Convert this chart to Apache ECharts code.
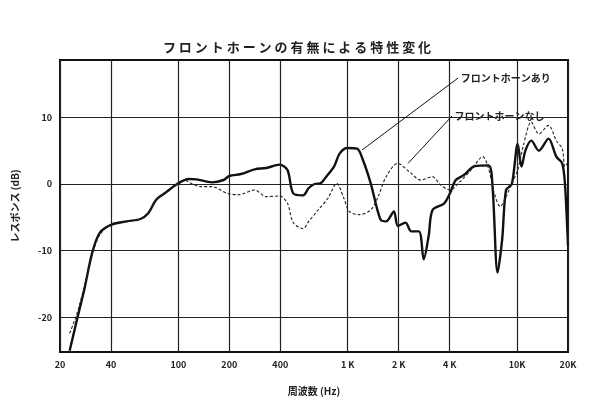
<!DOCTYPE html>
<html>
<head>
<meta charset="utf-8">
<script src="https://cdn.jsdelivr.net/npm/echarts@6/dist/echarts.min.js"></script>
<style>html,body{margin:0;padding:0;background:#fff}#chart{width:605px;height:408px}</style>
</head>
<body>
<div id="chart"></div>
<script>
// response with front horn (solid)
var withFreq = [22.8, 25, 27.9, 31, 34.4, 40.3, 49.7, 59.7, 66.4, 73.8, 84.1, 98.4, 115, 128, 158, 185, 200, 234, 282, 330, 397, 441, 477, 545, 589, 637, 690, 747, 830, 898, 996, 1137, 1230, 1368, 1560, 1687, 1875, 1977, 2195, 2374, 2637, 2812, 3007, 3170, 3716, 4018, 4346, 4830, 5652, 6795, 7166, 7675, 8170, 8612, 9318, 10090, 10630, 11200, 12130, 13460, 15350, 17060, 18480, 19180, 20000];
var withDb = [-25, -20.7, -15.7, -10.3, -7.3, -6.1, -5.6, -5.25, -4.4, -2.4, -1.3, 0, 0.75, 0.7, 0.25, 0.6, 1.2, 1.5, 2.2, 2.4, 2.9, 2.1, -1.4, -1.7, -0.6, 0, 0.1, 1.1, 2.6, 4.6, 5.4, 5.3, 3.6, 0.1, -5.3, -5.6, -4.1, -6.3, -5.8, -7.1, -7.1, -11.3, -7.8, -3.9, -2.9, -1.4, 0.6, 1.3, 2.7, 2.8, -0.4, -13.3, -8.3, -0.9, 0, 6.0, 2.6, 5.0, 6.5, 5.0, 6.8, 4.1, 3.1, 0.1, -9.3];
// response without front horn (dashed)
var withoutFreq = [22.8, 25, 27.9, 31, 34.4, 40.3, 49.7, 59.7, 66.4, 73.8, 84.1, 98, 108, 121, 135, 158, 194, 227, 282, 330, 397, 441, 477, 545, 589, 669, 766, 861, 942, 1021, 1168, 1368, 1512, 1687, 1977, 2320, 2700, 3170, 3520, 4018, 4580, 5360, 6270, 6795, 7340, 7950, 8612, 9318, 10090, 10910, 12130, 13460, 15350, 17060, 18480, 19180, 20000];
var withoutDb = [-22.4, -19.7, -15.3, -10.6, -7.6, -6.0, -5.6, -5.25, -4.4, -2.4, -1.3, 0, 0.6, 0, -0.4, -0.4, -1.4, -1.6, -0.9, -1.9, -1.8, -2.9, -5.8, -6.7, -5.6, -3.9, -2.1, 0.1, -1.9, -4.1, -4.6, -3.9, -1.9, 1.1, 3.1, 1.8, 0.6, 1.1, -0.1, -0.9, 0.3, 2.1, 4.1, 2.3, -1.4, -3.4, -1.9, 0.1, 2.1, 5.8, 9.3, 7.5, 8.8, 6.5, 5.3, 2.6, 3.3];
var xTicks = [20, 40, 100, 200, 400, 1000, 2000, 4000, 10000, 20000];
var xTickLabels = ['20', '40', '100', '200', '400', '1 K', '2 K', '4 K', '10K', '20K'];
var yTicks = [10, 0, -10, -20];

var font = '"Noto Sans CJK JP", "DejaVu Sans", sans-serif';

function pairs(xs, ys) {
  return xs.map(function (x, i) { return [x, ys[i]]; });
}

var gridLines = [];
xTicks.forEach(function (v, i) {
  gridLines.push({ xAxis: v, label: { formatter: xTickLabels[i] } });
});
yTicks.forEach(function (v) {
  gridLines.push({ yAxis: v, label: { formatter: String(v) } });
});

var chart = echarts.init(document.getElementById('chart'));
chart.setOption({
  backgroundColor: '#fff',
  animation: false,
  title: {
    text: 'フ ロ ン ト ホ ー ン の 有 無 に よ る 特 性 変 化',
    left: 292, top: 36, textAlign: 'center',
    textStyle: { fontFamily: font, fontSize: 13, fontWeight: 'bold', color: '#222' }
  },
  grid: { left: 60, right: 37, top: 60, bottom: 56, show: true, borderColor: '#111', borderWidth: 2, backgroundColor: 'transparent' },
  xAxis: {
    type: 'log', min: 20, max: 20000, logBase: 10,
    axisLine: { show: true, onZero: false, lineStyle: { color: '#111', width: 2 } },
    axisTick: { show: false }, axisLabel: { show: false }, splitLine: { show: false },
    name: '周波数 (Hz)', nameLocation: 'middle', nameGap: 34,
    nameTextStyle: { fontFamily: font, fontSize: 10, fontWeight: 'bold', color: '#222' }
  },
  yAxis: {
    type: 'value', min: -25.2, max: 18.6,
    axisLine: { show: true, lineStyle: { color: '#111', width: 2 } },
    axisTick: { show: false }, axisLabel: { show: false }, splitLine: { show: false },
    name: 'レスポンス (dB)', nameLocation: 'middle', nameGap: 40, nameRotate: 90,
    nameTextStyle: { fontFamily: font, fontSize: 10, fontWeight: 'bold', color: '#222' }
  },
  series: [
    {
      name: 'あり', type: 'line', symbol: 'none', smooth: 0.3,
      data: pairs(withFreq, withDb),
      lineStyle: { color: '#111', width: 2.4 },
      markLine: {
        silent: true, symbol: 'none', animation: false,
        lineStyle: { color: '#222', width: 1.2, type: 'solid' },
        label: { position: 'start', fontFamily: font, fontSize: 9, fontWeight: 'bold', color: '#222', distance: 8 },
        data: gridLines
      }
    },
    {
      name: 'なし', type: 'line', symbol: 'none', smooth: 0.3,
      data: pairs(withoutFreq, withoutDb),
      lineStyle: { color: '#222', width: 1.1, type: [3, 2] },
      markLine: {
        silent: true, symbol: 'none', animation: false,
        lineStyle: { color: '#111', width: 1, type: 'solid' },
        label: { show: false },
        data: [
          [{ coord: [4490, 15.9] }, { coord: [1216, 5.1] }],
          [{ coord: [4130, 10.2] }, { coord: [2273, 3.1] }]
        ]
      },
      markPoint: {
        symbol: 'circle', symbolSize: 1, itemStyle: { color: 'transparent' },
        label: { show: true, position: 'right', distance: 2, fontFamily: font, fontSize: 10, fontWeight: 'bold', color: '#222' },
        data: [
          { coord: [4490, 15.9], label: { formatter: 'フロントホーンあり' } },
          { coord: [4130, 10.2], label: { formatter: 'フロントホーンなし' } }
        ]
      }
    }
  ]
});
</script>
</body>
</html>
